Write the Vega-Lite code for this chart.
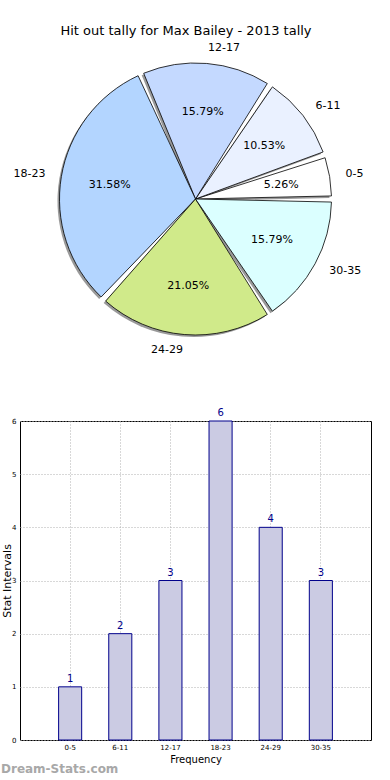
{
  "$schema": "https://vega.github.io/schema/vega-lite/v6.json",
  "padding": {"left": 0, "top": 25, "right": 0, "bottom": 0},
  "bounds": "flush",
  "spacing": 62,
  "title": {"text": "Hit out tally for Max Bailey - 2013 tally", "font": "DejaVu Sans", "fontSize": 13, "fontWeight": "normal", "color": "#000000", "offset": 1, "anchor": "middle"},
  "config": {
    "font": "DejaVu Sans",
    "view": {"stroke": null},
    "axis": {"labelFont": "DejaVu Sans", "titleFont": "DejaVu Sans", "titleFontWeight": "normal"}
  },
  "datasets": {
    "tally": [
      {"idx": 0, "range": "0-5", "count": 1, "pct": "5.26%"},
      {"idx": 1, "range": "6-11", "count": 2, "pct": "10.53%"},
      {"idx": 2, "range": "12-17", "count": 3, "pct": "15.79%"},
      {"idx": 3, "range": "18-23", "count": 6, "pct": "31.58%"},
      {"idx": 4, "range": "24-29", "count": 4, "pct": "21.05%"},
      {"idx": 5, "range": "30-35", "count": 3, "pct": "15.79%"}
    ]
  },
  "vconcat": [
    {
      "width": 351,
      "height": 320,
      "data": {"name": "tally"},
      "encoding": {
        "theta": {"field": "count", "type": "quantitative", "stack": true, "scale": {"range": [1.5707963, -4.7123890]}},
        "order": {"field": "idx", "type": "quantitative"}
      },
      "layer": [
        {
          "mark": {"type": "arc", "outerRadius": 136, "padAngle": 0.045, "fill": "#6e6e6e", "opacity": 0.7, "xOffset": -2, "yOffset": 2}
        },
        {
          "mark": {"type": "arc", "outerRadius": 136, "padAngle": 0.045, "stroke": "#000000", "strokeWidth": 0.8},
          "encoding": {
            "color": {"field": "range", "type": "nominal", "legend": null,
              "scale": {"domain": ["0-5", "6-11", "12-17", "18-23", "24-29", "30-35"],
                        "range": ["#FFFFFF", "#EAF1FF", "#C4D9FF", "#B3D5FF", "#D0EA8A", "#DBFFFF"]}}
          }
        },
        {
          "mark": {"type": "text", "radius": 87, "fontSize": 11, "color": "#000000", "align": "center", "baseline": "middle"},
          "encoding": {"text": {"field": "pct"}}
        },
        {
          "mark": {"type": "text", "radius": 152, "fontSize": 11, "color": "#000000", "baseline": "middle",
                   "align": {"expr": "datum.idx == 3 || datum.idx == 4 ? 'right' : 'left'"}},
          "encoding": {"text": {"field": "range"}}
        }
      ]
    },
    {
      "width": 351,
      "height": 319,
      "data": {"name": "tally"},
      "title": {"text": "Dream-Stats.com", "orient": "bottom", "anchor": "start", "frame": "group", "dx": -19, "offset": 0, "fontSize": 12, "fontWeight": "bold", "color": "#A8A8A8", "font": "DejaVu Sans"},
      "view": {"stroke": "#000000", "strokeWidth": 1},
      "encoding": {
        "x": {"field": "range", "type": "ordinal", "sort": {"field": "idx"},
          "scale": {"paddingInner": 0, "paddingOuter": 0.5},
          "axis": {"title": "Frequency", "titleFontSize": 10, "titlePadding": 4, "labelFontSize": 7, "labelAngle": 0, "labelPadding": 3, "tickSize": 0, "domain": false,
                   "grid": true, "gridDash": [1, 2], "gridColor": "#b0b0b0", "gridWidth": 1, "labelColor": "#000000", "titleColor": "#000000"}},
        "y": {"field": "count", "type": "quantitative",
          "scale": {"domain": [0, 6], "nice": false},
          "axis": {"title": "Stat Intervals", "titleFontSize": 11, "titleX": -13, "titleBaseline": "middle", "titlePadding": 0, "values": [0, 1, 2, 3, 4, 5, 6], "labelFontSize": 7, "labelPadding": 4, "tickSize": 0, "domain": false,
                   "grid": true, "gridDash": [1, 2], "gridColor": "#b0b0b0", "gridWidth": 1, "labelColor": "#000000", "titleColor": "#000000"}}
      },
      "layer": [
        {
          "mark": {"type": "bar", "width": {"band": 0.46}, "fill": "#CBCBE3", "stroke": "#00008B", "strokeWidth": 1}
        },
        {
          "mark": {"type": "text", "dy": -3, "baseline": "bottom", "fontSize": 10, "color": "#00008B"},
          "encoding": {"text": {"field": "count", "type": "quantitative"}}
        }
      ]
    }
  ]
}
